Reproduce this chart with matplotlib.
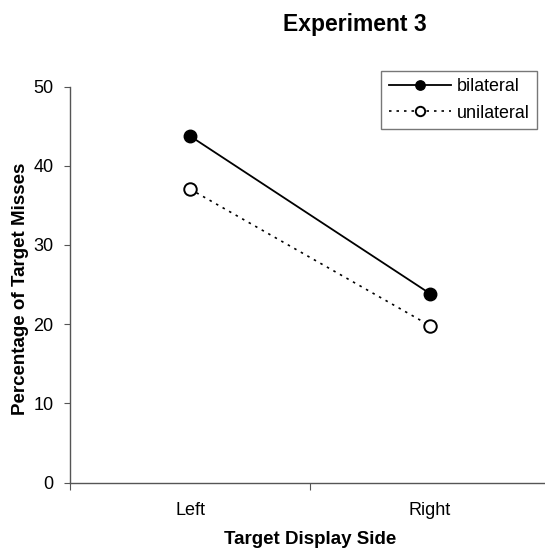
import matplotlib.pyplot as plt
from matplotlib.ticker import FixedLocator, NullFormatter

plt.rcParams['font.family'] = ['Liberation Sans', 'DejaVu Sans']

# data
sides = ['Left', 'Right']
bilateral = [43.75, 23.85]
unilateral = [37.05, 19.8]
yticks = [0, 10, 20, 30, 40, 50]

W, H = 545, 552
fig = plt.figure(figsize=(W / 100, H / 100), dpi=100)
ax = fig.add_axes([70 / W, (H - 482.5) / H, 480 / W, 396 / H])

xpos = [0.5, 1.5]
ax.plot(xpos, bilateral, color='black', lw=1.3, marker='o', ms=9,
        mfc='black', mec='black', label='bilateral', clip_on=False)
ax.plot(xpos, unilateral, color='black', lw=1.2, ls=(0, (1.5, 3)), marker='o', ms=9,
        mfc='white', mec='black', mew=1.4, label='unilateral', clip_on=False)

ax.set_xlim(0, 2)
ax.set_ylim(0, 50)
ax.set_yticks(yticks)
ax.xaxis.set_major_locator(FixedLocator([0, 1, 2]))
ax.xaxis.set_major_formatter(NullFormatter())
ax.xaxis.set_minor_locator(FixedLocator(xpos))
ax.set_xticklabels(sides, minor=True)
ax.tick_params(axis='x', which='minor', length=0, pad=14, labelsize=13)
ax.tick_params(axis='x', which='major', length=5, direction='out', color='#555555')
ax.tick_params(axis='y', length=4, direction='out', color='#555555', pad=8, labelsize=13)

for s in ['top', 'right']:
    ax.spines[s].set_visible(False)
for s in ['left', 'bottom']:
    ax.spines[s].set_color('#555555')
    ax.spines[s].set_linewidth(1.0)

leg = ax.legend(loc='upper right', bbox_to_anchor=(536.7 / W, 1 - 70.7 / H),
                bbox_transform=fig.transFigure, borderaxespad=0, fontsize=12.9,
                fancybox=False, framealpha=1, edgecolor='#777777',
                handlelength=3.5, handletextpad=0.3, borderpad=0.4,
                labelspacing=0.55, markerscale=0.75)
leg.get_frame().set_linewidth(1.0)

fig.text(355 / W, 1 - 25 / H, 'Experiment 3', ha='center', va='center',
         fontsize=16.5, fontweight='bold')
fig.text(310 / W, 1 - 540 / H, 'Target Display Side', ha='center', va='center',
         fontsize=13.5, fontweight='bold')
fig.text(21 / W, 1 - 289 / H, 'Percentage of Target Misses', ha='center', va='center',
         rotation=90, fontsize=13.5, fontweight='bold')

fig.savefig('out.png', dpi=100)
